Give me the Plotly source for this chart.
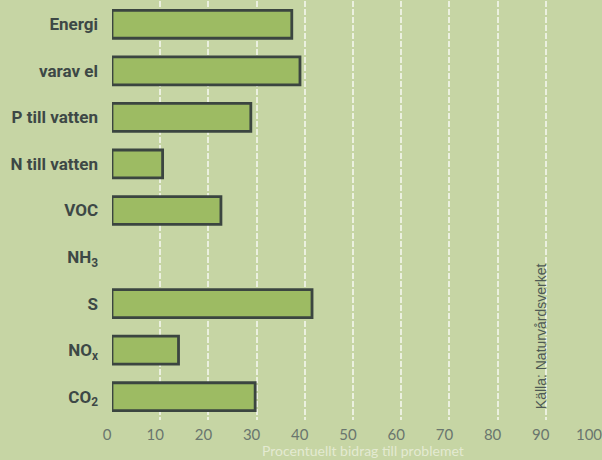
import plotly.graph_objects as go

categories = ["Energi", "varav el", "P till vatten", "N till vatten", "VOC",
              "NH<sub>3</sub>", "S", "NO<sub>x</sub>", "CO<sub>2</sub>"]
values = [37.3, 39.0, 28.8, 10.5, 22.6, None, 41.5, 13.8, 29.7]
tick_vals = [0, 10, 20, 30, 40, 50, 60, 70, 80, 90, 100]

bg = "#c6d5a4"

fig = go.Figure(go.Bar(
    x=values, y=categories, orientation="h", width=0.6,
    marker=dict(color="#9dbb63", line=dict(color="#3b4540", width=2.8)),
))

fig.update_layout(
    width=602, height=460,
    margin=dict(l=112, r=8, t=1, b=40, autoexpand=False),
    paper_bgcolor=bg, plot_bgcolor=bg,
    showlegend=False,
    font=dict(family="Roboto", color="#3d4846"),
    annotations=[
        dict(text="Källa: Naturvårdsverket", x=89, y=0.2, xref="x", yref="paper",
             textangle=-90, showarrow=False, xanchor="center", yanchor="middle",
             font=dict(family="Liberation Sans, Arial", size=14, color="#4f5a55")),
        dict(text="Procentuellt bidrag till problemet", x=52, y=-0.073, xref="x", yref="paper",
             showarrow=False, xanchor="center", yanchor="middle",
             font=dict(family="Lato, Liberation Sans", size=14, color="rgba(236,240,222,0.8)")),
    ],
)

fig.update_xaxes(
    range=[0, 100], tickvals=tick_vals, showgrid=True, automargin=False,
    gridcolor="rgba(255,255,255,0.65)", gridwidth=1.5, griddash="6px,2px",
    zeroline=False, showline=False, ticks="", ticklabelstandoff=4,
    ticklabelshift=-5, ticklabeloverflow="allow",
    tickfont=dict(family="Lato, Liberation Sans", size=15, color="#6a766e"),
)
fig.update_yaxes(
    categoryorder="array", categoryarray=categories, autorange="reversed",
    showgrid=False, zeroline=False, ticks="", ticklabelstandoff=13, automargin=False,
    tickfont=dict(family="Roboto", size=17, color="#3d4846", weight="bold"),
)

# the page's default body margin would push the figure 8px in
fig.write_html("out.html", config={"displayModeBar": False},
               post_script="document.body.style.margin = '0';")
